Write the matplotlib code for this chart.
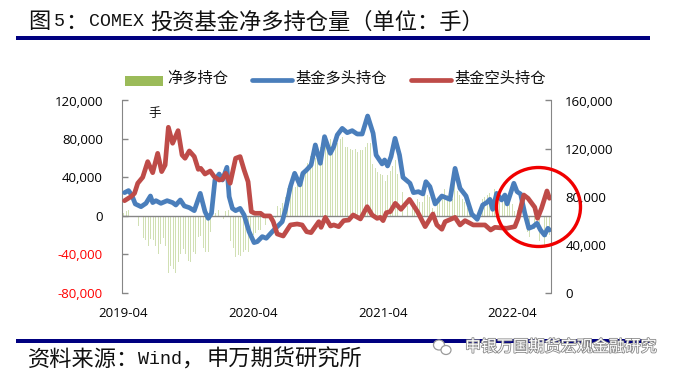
import numpy as np
import matplotlib
matplotlib.use('Agg')
import matplotlib.pyplot as plt
import matplotlib.patheffects as pe
from matplotlib.patches import Ellipse, Rectangle
from matplotlib.lines import Line2D

# net position, one bar a week, in thousands of lots (left axis)
net_long = [3,5,6,1,-1,-13,-11,-21,-23,-25,
    -31,-24,-25,-31,-40,-29,-23,-31,-60,-52,
    -55,-59,-48,-40,-35,-40,-47,-48,-38,-40,
    -22,-21,-33,-38,-38,-17,-1,3,6,-1,
    -3,5,6,-26,-33,-43,-41,-42,-38,-36,
    -38,-22,-20,-18,-15,-15,-12,-10,-8,-5,
    -5,-2,10,8,13,20,29,32,36,30,
    33,38,44,50,55,62,70,60,66,72,
    75,72,76,80,70,78,76,80,82,72,
    72,70,68,70,66,68,68,72,76,76,
    54,50,46,44,42,36,42,47,52,58,
    44,38,25,15,10,8,8,10,17,14,
    14,23,22,20,8,5,12,14,18,28,
    22,16,18,35,26,22,18,14,8,4,
    1,0,1,8,18,20,22,24,18,28,
    24,27,22,18,12,24,12,5,6,3,
    0,-3,-17,-22,-22,-14,-15,-26,-28,-30,-22,-20]

long_weeks = [0.4,2,3.3,4.7,7,9,10.8,11.7,13,15,17.5,19.7,21,22.8,24.4,26.4,28.4,30.8,32.7,34,35.3,36.7,38.4,39.7,41.5,42.4,43.7,45,46.8,48.4,50.4,52.4,53.7,55.7,57.3,59.7,62.4,63.7,65,67,68.7,70.8,72,73.5,75.3,77,79,80.7,83,84.4,85.8,87.8,89.8,91.8,93.8,95.8,98,100.2,101.4,103.8,104.8,106,107.4,109,110.8,112.2,115,116.4,118.4,120.2,121.4,123,125.1,127.8,131.1,133.1,135.1,137.5,139.8,142,144.2,145.8,147.1,148.2,149.8,151.8,153.1,154,156.7,158,159.4,161.1,162.7,164.4,166,167.4,169,170.4,171]
long_pos = [83300,85000,81300,73900,71600,74400,80500,75000,76600,74400,76600,75000,73000,77200,72200,70800,68300,82700,67500,61900,66100,93800,98800,93800,104400,80000,70200,68300,70200,64700,50800,41700,42500,46700,45300,50800,56400,59100,68900,88300,99400,89700,99400,102200,106300,123000,107700,129900,116000,121600,131300,136800,133200,134900,132100,132100,147100,132700,114600,107200,110500,105500,113300,128500,114600,96000,91100,83300,84100,82200,92400,88300,73900,80500,77700,103500,86900,80500,65500,61100,73000,75000,77700,69400,82700,77200,81300,73900,91100,84100,82200,66100,53600,55000,57800,52200,48000,53600,52200]

short_weeks = [0.4,3,4.4,5.7,7.7,9.7,11.7,13.7,15.3,16.7,18,19.7,21.9,23.5,24.7,26.4,28.4,30,31,32.7,34.8,36.4,38.4,39.7,41,42.8,45,46.8,48.4,50,51.3,52.7,55,56.4,58.8,60.1,61.7,64.1,67,69.7,71.7,73.5,75.3,78.4,79.3,81,83.1,84.4,86.4,88.4,90.4,92.2,95.1,97.8,99.8,101.8,103.1,104.2,105.5,107.1,109.1,111.4,114.8,118,121.1,124.2,125.8,127.8,129.1,133.1,135.1,137.1,140.4,145.1,147.4,149.1,153.8,157.1,158.4,160.7,162.4,165.1,166.2,167.8,170,171]
short_pos = [76600,80000,82700,91100,96100,109100,99900,116000,100800,106300,137700,124400,134900,114600,111900,118000,113300,102700,103500,98800,101300,96600,93800,94400,99400,91100,111900,113300,102200,92400,67500,66100,66100,63900,63900,59100,48900,47200,56400,57200,56400,50800,50000,59100,54400,62700,55500,56400,55000,60000,60500,64700,61400,71600,64700,61900,62700,60000,66600,67500,74400,69400,77700,67500,55000,65500,56400,52800,59100,62700,56400,60000,56400,56400,52200,54400,53600,55000,61900,81300,78600,71100,61900,70200,84700,78600]

left_ticks = [-80000,-40000,0,40000,80000,120000]
right_ticks = [0,40000,80000,120000,160000]
date_weeks = [0,52,104,156]
date_labels = ['2019-04','2020-04','2021-04','2022-04']

W, H = 674, 376
CJK = ['Noto Sans CJK SC', 'DejaVu Sans']
NUM = 'Open Sans'
MONO = 'Liberation Mono'
GREY = '#868686'
NAVY = '#000080'
GREEN = '#9BBB59'
BLUE = '#4A7EBB'
RED = '#BE4B48'

fig = plt.figure(figsize=(W/100, H/100), dpi=100)

def fx(x):
    return x / W

def fy(y):
    return 1 - y / H

def label(x, y, s, size=16, family=CJK, color='#111111', **kw):
    return fig.text(fx(x), fy(y), s, fontsize=size, family=family, color=color,
                    va='center', **kw)

ax = fig.add_axes([fx(122.3), fy(292.7), (550.7-122.3)/W, 192.2/H])
ax.bar(np.arange(len(net_long)), np.array(net_long)*1000, width=0.38, color=GREEN, alpha=0.45, linewidth=0)
ax.axhline(0, color=GREY, lw=1, zorder=3)
ax.set_xlim(-0.5, 171.5)
ax.set_ylim(-80000, 120000)
ax.set_yticks(left_ticks)
ax.set_yticklabels([f'{v:,}' for v in left_ticks], family=NUM, fontsize=9.5)
for t, v in zip(ax.get_yticklabels(), left_ticks):
    t.set_color('red' if v < 0 else 'black')
ax.set_xticks(date_weeks)
ax.set_xticklabels(date_labels, family=NUM, fontsize=9.5)
ax.tick_params(axis='x', length=0, pad=10)
ax.tick_params(axis='y', direction='in', length=4, width=1, color=GREY, pad=14)
ax.spines['top'].set_visible(False)
ax.spines['right'].set_visible(False)
ax.spines['bottom'].set_visible(False)
ax.spines['left'].set_color(GREY)

ax2 = ax.twinx()
ax2.plot(long_weeks, long_pos, color=BLUE, lw=3.4, solid_capstyle='round', solid_joinstyle='round')
ax2.plot(short_weeks, short_pos, color=RED, lw=3.4, solid_capstyle='round', solid_joinstyle='round')
ax2.set_ylim(0, 160000)
ax2.set_yticks(right_ticks)
ax2.set_yticklabels([f'{v:,}' for v in right_ticks], family=NUM, fontsize=9.5)
ax2.tick_params(axis='y', direction='in', length=4, width=1, color=GREY, pad=10.5)
ax2.spines['top'].set_visible(False)
ax2.spines['left'].set_visible(False)
ax2.spines['bottom'].set_visible(False)
ax2.spines['right'].set_color(GREY)

# title, the latin part is half width like the original font
label(28, 22, '图')
label(54, 22, '5', size=13.2, family=MONO)
label(65, 22, '：')
label(89, 22, 'COMEX', size=13.2, family=MONO)
label(150, 22, '投资基金净多持仓量（单位：手）')

# rules
for y in (38, 341):
    fig.add_artist(Rectangle((fx(16), fy(y+2)), (650-16)/W, 4/H, transform=fig.transFigure, color=NAVY, lw=0))

# legend
fig.add_artist(Rectangle((fx(125), fy(86)), 38/W, 10/H, transform=fig.transFigure, color=GREEN, lw=0))
label(167, 78, '净多持仓', size=11)
fig.add_artist(Line2D([fx(252), fx(292)], [fy(80), fy(80)], color=BLUE, lw=3.4, solid_capstyle='round'))
label(295, 78, '基金多头持仓', size=11)
fig.add_artist(Line2D([fx(411), fx(451)], [fy(80), fy(80)], color=RED, lw=3.4, solid_capstyle='round'))
label(454, 78, '基金空头持仓', size=11)

label(148, 114, '手', size=9)

# red circle drawn by hand on the original
fig.add_artist(Ellipse((fx(538.5), fy(207)), 84/W, 79/H, transform=fig.transFigure,
                       fill=False, edgecolor='#F00000', lw=2.4, zorder=10))

# source line
label(28, 359, '资料来源：')
label(138, 359, 'Wind', size=13.2, family=MONO)
label(182, 359, '，')
label(207, 359, '申万期货研究所')

# watermark
wm = label(465, 347, '申银万国期货宏观金融研究', size=11.5, color='white')
wm.set_path_effects([pe.withStroke(linewidth=1.2, foreground='#8a8a8a')])
for cx, cy, w, h in [(439, 345, 11, 10), (446, 350, 10, 9)]:
    fig.add_artist(Ellipse((fx(cx), fy(cy)), w/W, h/H, transform=fig.transFigure,
                           facecolor='white', edgecolor='#9a9a9a', lw=0.9, zorder=11))

fig.savefig('out.png', dpi=100)
